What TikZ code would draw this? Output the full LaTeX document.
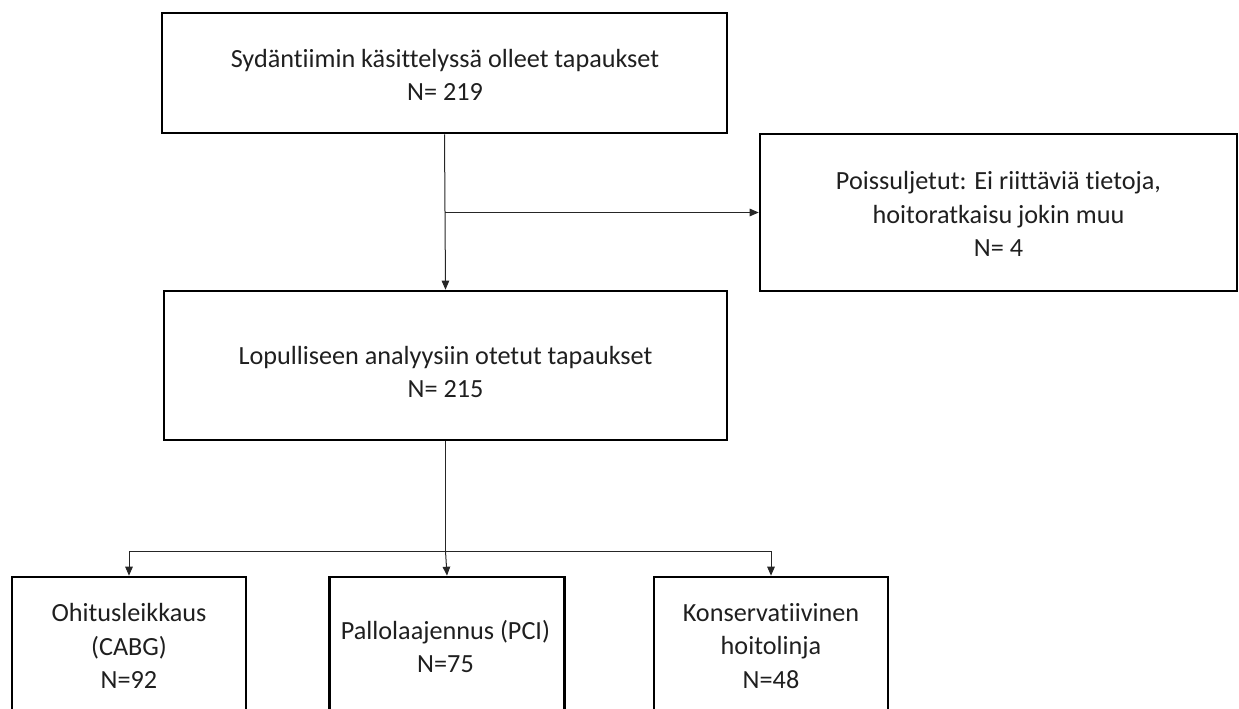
\documentclass[tikz,border=0pt]{standalone}
\usepackage{fontspec}
\setmainfont{Carlito}[RawFeature={-liga;-clig;-dlig}]
\usetikzlibrary{arrows.meta}
\begin{document}
\begin{tikzpicture}[x=1pt,y=-1pt,
  box/.style={draw=black, line width=2.6pt, inner sep=0pt},
  txt/.style={align=center, inner sep=0pt, text=black!88, font=\fontsize{26.2}{33.5}\selectfont},
  conn/.style={line width=1pt, draw=black!85},
  arr/.style={conn, -{Triangle[length=9pt,width=7.5pt]}}]
\useasboundingbox (0,0) rectangle (1239,709);
\clip (0,0) rectangle (1239,709);
% boxes
\node[box, minimum width=565pt, minimum height=120pt] (top) at (444.5,73) {};
\node[box, minimum width=477pt, minimum height=157pt] (excl) at (998.5,212.5) {};
\node[box, minimum width=563pt, minimum height=149pt] (final) at (445.5,365.5) {};
\node[box, minimum width=234pt, minimum height=183pt] (cabg) at (129,668.5) {};
\node[box, minimum width=235pt, minimum height=183pt] (pci) at (447,668.5) {};
\node[box, minimum width=234pt, minimum height=183pt] (cons) at (771,668.5) {};
% texts
\node[txt] (ttop) at (445,75) {Sydäntiimin käsittelyssä olleet tapaukset\\N= 219};
\node[txt] (texcl) at (998.5,214) {Poissuljetut: Ei riittäviä tietoja,\\hoitoratkaisu jokin muu\\N= 4};
\node[txt] (tfinal) at (445.5,372) {Lopulliseen analyysiin otetut tapaukset\\N= 215};
\node[txt] (tcabg) at (129,646) {Ohitusleikkaus\\(CABG)\\N=92};
\node[txt] (tpci) at (445.5,646.5) {Pallolaajennus (PCI)\\N=75};
\node[txt] (tcons) at (771,646) {Konservatiivinen\\hoitolinja\\N=48};
% connectors
\coordinate (j1) at (top.south |- excl.west);
\draw[arr] (top.south) -- (final.north);
\draw[arr] (j1) -- (excl.west);
\coordinate (j2) at (final.south |- 0,551);
\coordinate (jl) at (cabg.north |- j2);
\coordinate (jr) at (cons.north |- j2);
\draw[conn] (final.south) -- (j2);
\draw[conn] (jl) -- (jr);
\draw[arr] (jl) -- (cabg.north);
\draw[arr] (j2) -- (pci.north);
\draw[arr] (jr) -- (cons.north);
\end{tikzpicture}
\end{document}
